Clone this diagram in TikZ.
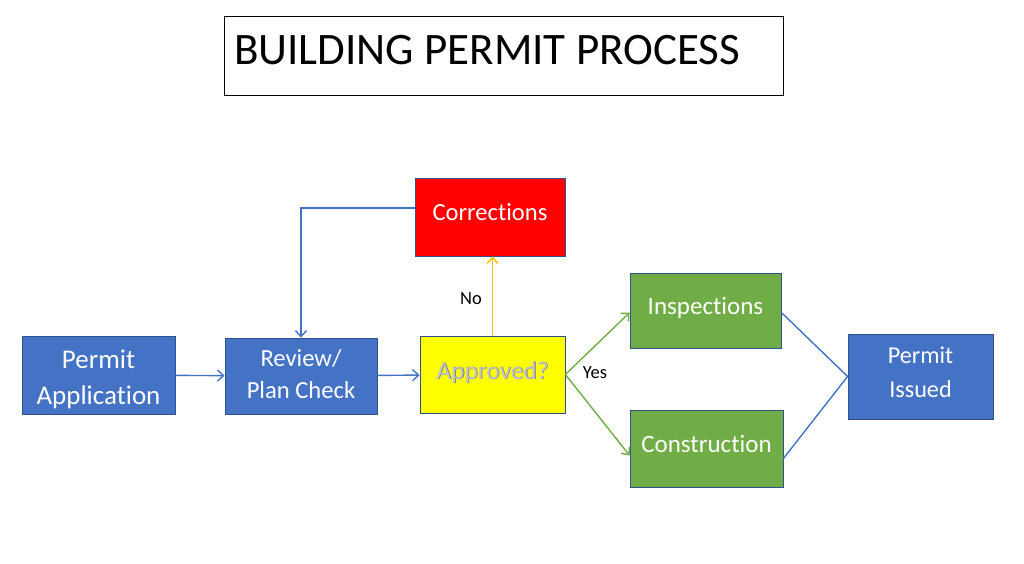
\documentclass[tikz,border=0pt]{standalone}
\usepackage{fontspec}
\setmainfont{Carlito}[Ligatures=NoCommon]
\usetikzlibrary{arrows.meta}
\definecolor{pblue}{HTML}{4472C4}
\definecolor{pedge}{HTML}{2F528F}
\definecolor{pgreen}{HTML}{70AD47}
\definecolor{pred}{HTML}{FF0000}
\definecolor{pyellow}{HTML}{FFFF00}
\definecolor{porange}{HTML}{FFC000}
\definecolor{ptext}{HTML}{C4C4C4}
\definecolor{pshade}{HTML}{7F7F7F}
\newcommand{\twolines}[3]{\raisebox{#1}[0pt][0pt]{\begin{tabular}[t]{@{}c@{}}#2\\#3\end{tabular}}}
\begin{document}
\begin{tikzpicture}[x=1pt,y=-1pt,
  box/.style={draw=pedge, line width=0.8pt, inner sep=0pt,
    text=white, font=\fontsize{25}{33}\selectfont},
  bluebox/.style={box, fill=pblue},
  greenbox/.style={box, fill=pgreen},
  conn/.style={line width=1.4pt},
  arr/.style={conn, -{Straight Barb[length=6pt,width=11pt]}},
  lbl/.style={font=\fontsize{18.5}{22}\selectfont, text=black, inner sep=0pt}
]
\useasboundingbox (0,0) rectangle (1024,564);
\fill[white] (0,0) rectangle (1024,564);
% title
\draw[black, line width=0.9pt] (224,16) rectangle (783,95);
\node[anchor=west, inner sep=0pt, font=\fontsize{45}{50}\selectfont] (title) at (234,50) {BUILDING PERMIT PROCESS};
% nodes
\node[bluebox, minimum width=153pt, minimum height=78pt, font=\fontsize{27}{36}\selectfont] (pa) at (98.5,375) {\twolines{7pt}{Permit}{Application}};
\node[bluebox, minimum width=152pt, minimum height=76pt, font=\fontsize{24.6}{32.5}\selectfont] (rv) at (301,376) {\twolines{10pt}{Review/}{Plan Check}};
\node[box, fill=pyellow, text=ptext, minimum width=145pt, minimum height=77pt, font=\fontsize{25.4}{33}\selectfont, text height=9pt, text depth=0pt] (ap) at (492.5,374.5) {\makebox[0pt][l]{\raisebox{-0.9pt}{\hspace{0.9pt}\textcolor{pshade}{Approved?}}}Approved?};
\node[box, fill=pred, minimum width=150pt, minimum height=78pt, font=\fontsize{24.6}{33}\selectfont, text height=6pt, text depth=0pt] (co) at (490,217) {Corrections};
\node[greenbox, minimum width=151pt, minimum height=75pt, text height=7pt, text depth=0pt] (in) at (705.5,310.5) {Inspections};
\node[greenbox, minimum width=153pt, minimum height=77pt, text height=7pt, text depth=0pt] (cn) at (706.5,448.5) {Construction};
\node[bluebox, minimum width=145pt, minimum height=85pt, font=\fontsize{24.2}{34}\selectfont] (pi) at (920.5,376.5) {\twolines{13.5pt}{Permit}{Issued}};
% connectors
\draw[arr, pblue] (pa) -- (rv);
\draw[arr, pblue] (rv) -- (ap);
\draw[arr, porange] (ap.north) -- (ap.north |- co.south);
\draw[arr, pblue] ([yshift=9pt]co.west) -| (rv.north);
\draw[arr, pgreen] (ap.east) -- ([yshift=-2pt]in.west);
\draw[arr, pgreen] (ap.east) -- ([yshift=-7pt]cn.west);
\draw[conn, pblue] ([yshift=-2pt]in.east) -- (pi.west);
\draw[conn, pblue] ([yshift=-10pt]cn.east) -- (pi.west);
% labels
\node[lbl] (no) at (471,299) {No};
\node[lbl] (yes) at (595,373) {Yes};
\end{tikzpicture}
\end{document}
